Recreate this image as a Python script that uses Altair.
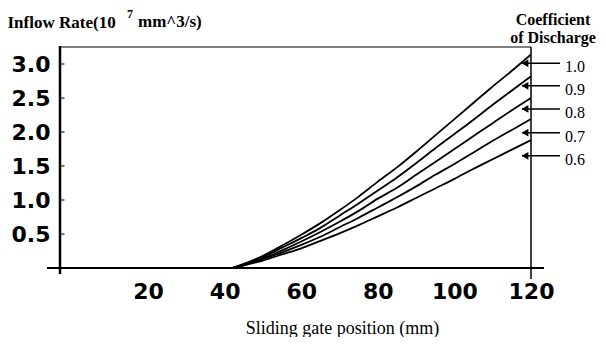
import altair as alt
import pandas as pd

# ---- data ----
gate_mm = [42, 45, 50, 55, 60, 65, 70, 75, 80, 85, 90, 95, 100, 105, 110, 115, 120]
q_cd10 = [0, 0.06, 0.18, 0.33, 0.49, 0.66, 0.85, 1.05, 1.27, 1.48, 1.71, 1.95, 2.19, 2.43, 2.67, 2.90, 3.14]
q_cd09 = [0, 0.05, 0.16, 0.30, 0.44, 0.59, 0.77, 0.95, 1.14, 1.33, 1.54, 1.76, 1.97, 2.18, 2.40, 2.61, 2.82]
q_cd08 = [0, 0.05, 0.14, 0.26, 0.39, 0.53, 0.68, 0.84, 1.02, 1.18, 1.37, 1.56, 1.75, 1.94, 2.13, 2.32, 2.50]
q_cd07 = [0, 0.04, 0.13, 0.23, 0.34, 0.46, 0.60, 0.74, 0.89, 1.04, 1.20, 1.37, 1.53, 1.70, 1.87, 2.03, 2.19]
q_cd06 = [0, 0.04, 0.11, 0.20, 0.29, 0.40, 0.51, 0.63, 0.76, 0.89, 1.03, 1.17, 1.31, 1.46, 1.60, 1.74, 1.88]
cd_names = ["1.0", "0.9", "0.8", "0.7", "0.6"]
arrow_at = [3.01, 2.68, 2.34, 1.99, 1.65]
x_ticks = [20, 40, 60, 80, 100, 120]
y_ticks = [0.5, 1.0, 1.5, 2.0, 2.5, 3.0]

W, H = 471, 221

rows = []
for name, vals in zip(cd_names, [q_cd10, q_cd09, q_cd08, q_cd07, q_cd06]):
    for g, q in zip(gate_mm, vals):
        rows.append({"gate": g, "val": q, "cd": name})
df = pd.DataFrame(rows)

x_scale = alt.Scale(domain=[-3, 120], nice=False, zero=False)
y_scale = alt.Scale(domain=[0, 3.25], nice=False, zero=False)

SERIF = "Liberation Serif"

y_axis = alt.Axis(
    values=y_ticks, format=".1f", title="Inflow Rate(10", domain=False, ticks=False, tickSize=0,
    grid=False, labelFont="DejaVu Sans", labelFontWeight="bold", labelFontSize=22,
    labelColor="black", labelPadding=10, labelFlush=False, labelOverlap=False,
    titleFont=SERIF, titleFontSize=17, titleFontWeight="bold", titleColor="black",
    titleAngle=0, titleAlign="left", titleX=-53, titleY=-20, titleBaseline="alphabetic")

def Y():
    return alt.Y("val:Q", scale=y_scale, axis=y_axis)

lines = alt.Chart(df).mark_line(color="black", strokeWidth=1.8, interpolate="monotone").encode(
    x=alt.X("gate:Q", scale=x_scale, axis=alt.Axis(
        values=x_ticks, title="Sliding gate position (mm)", domain=False, ticks=False, tickSize=0,
        grid=False, labelFont="DejaVu Sans", labelFontWeight="bold", labelFontSize=22,
        labelColor="black", labelPadding=13, labelFlush=False, labelOverlap=False,
        titleFont=SERIF, titleFontSize=18, titleFontWeight="normal", titleColor="black",
        titleX=282, titleY=65, titleBaseline="alphabetic")),
    y=Y(),
    detail="cd:N",
)

one = pd.DataFrame({"k": [0]})

def rule(**enc):
    sw = enc.pop("sw")
    return alt.Chart(one).mark_rule(color="black", strokeWidth=sw).encode(**enc)

frame = [
    rule(x=alt.value(-13), x2=alt.value(W + 13), y=alt.value(H), sw=2),
    rule(x=alt.value(0), y=alt.value(-1), y2=alt.value(H + 6), sw=2.5),
    rule(x=alt.value(0), x2=alt.value(W), y=alt.value(0), sw=1),
    rule(x=alt.value(W), y=alt.value(0), y2=alt.value(H + 11), sw=1.5),
]

ticks = alt.Chart(pd.DataFrame({"val": y_ticks})).mark_tick(
    orient="horizontal", size=5, thickness=1.5, color="black"
).encode(y=Y(), x=alt.value(2))

def label(txt, x, y, size, weight="bold", align="left"):
    return alt.Chart(pd.DataFrame({"t": [txt]})).mark_text(
        font=SERIF, fontSize=size, fontWeight=weight, align=align,
        baseline="alphabetic", color="black"
    ).encode(text="t:N", x=alt.value(x), y=alt.value(y))

texts = [
    label("7", 67, -29, 12),
    label("mm^3/s)", 78, -20, 17),
    label("Coefficient", 493, -22, 16, align="center"),
    label("of Discharge", 493, -4, 16, align="center"),
]

adf = pd.DataFrame({"cd": cd_names, "val": arrow_at})
arrow_lines = alt.Chart(adf).mark_rule(color="black", strokeWidth=1.5).encode(
    y=Y(), x=alt.value(462), x2=alt.value(500))
arrow_heads = alt.Chart(adf).mark_point(
    shape="triangle-left", filled=True, color="black", size=60, opacity=1
).encode(y=Y(), x=alt.value(465))
arrow_text = alt.Chart(adf).mark_text(
    font=SERIF, fontSize=16, align="left", baseline="middle", dy=4, color="black"
).encode(y=Y(), x=alt.value(505), text="cd:N")

chart = alt.layer(
    lines, *frame, ticks, *texts, arrow_lines, arrow_heads, arrow_text
).properties(
    width=W, height=H,
    padding={"left": 52, "top": 39, "right": 67, "bottom": 69},
    autosize=alt.AutoSizeParams(type="none"),
    background="white",
).configure_view(stroke=None)

chart.save("out.html", embed_options={"renderer": "svg", "actions": False})
